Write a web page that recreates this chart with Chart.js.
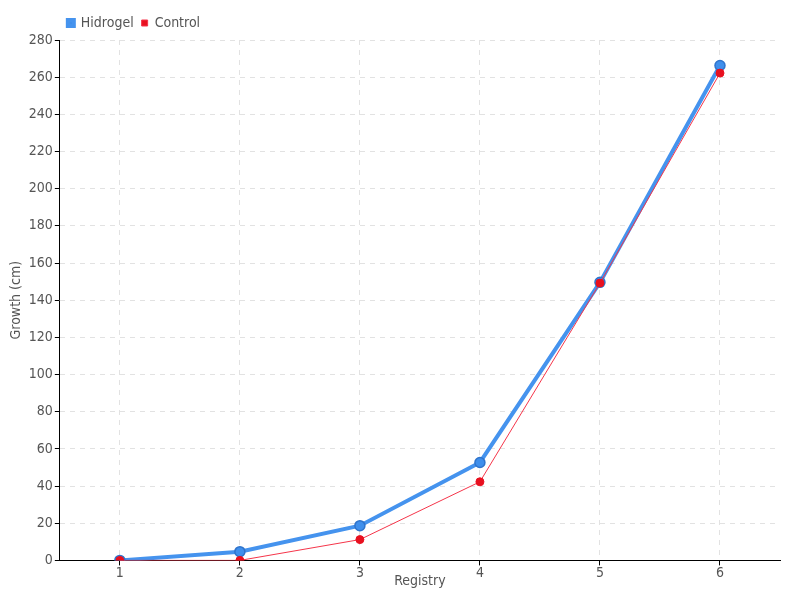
<!DOCTYPE html>
<html>
<head>
<meta charset="utf-8">
<script src="https://cdn.jsdelivr.net/npm/chart.js@4"></script>
<style>
  html, body { margin: 0; padding: 0; background: #fff; }
  #wrap { width: 800px; height: 600px; }
</style>
</head>
<body>
<div id="wrap"><canvas id="c"></canvas></div>
<script>
// ── Data ──────────────────────────────────────────────────────────────────────
const registry = ['1', '2', '3', '4', '5', '6'];
const hidrogel = [0, 4.7, 18.7, 52.7, 149.6, 266.3];
const control  = [0, 0, 11.2, 42.3, 149.2, 262.2];

const FONT = "'DejaVu Sans Condensed', 'Liberation Sans Narrow', 'Roboto', sans-serif";
const theme = { grid: '#e2e2e2', tick: '#555', axis: '#000' };

new Chart(document.getElementById('c'), {
    type: 'line',
    data: {
        labels: registry,
        datasets: [
            { label: 'Hidrogel', order: 1, data: hidrogel, borderColor: '#4593ee', backgroundColor: '#3f8fec', borderWidth: 4, pointRadius: 5, pointBorderColor: '#2f74cc', pointBorderWidth: 1.5, tension: 0, fill: false },
            { label: 'Control',  order: 0, data: control,  borderColor: '#f5354a', backgroundColor: '#e8101f', borderWidth: 1, pointRadius: 4, pointBorderColor: '#e8101f', pointBorderWidth: 1, tension: 0, fill: false },
        ],
    },
    options: {
        responsive: true, maintainAspectRatio: false, animation: false,
        layout: { padding: { left: 0, right: 20, top: 8, bottom: 10 } },
        plugins: {
            legend: {
                position: 'top', align: 'start', fullSize: false,
                labels: { color: theme.tick, boxWidth: 6, boxHeight: 6, padding: 8, font: { family: FONT, size: 14 },
                    sort: (a, b) => a.datasetIndex - b.datasetIndex },
            },
            tooltip: { enabled: false },
        },
        scales: {
            x: {
                offset: true,
                title: { display: true, text: 'Registry', color: theme.tick, font: { family: FONT, size: 14 }, padding: { top: -9, bottom: 0 } },
                grid: { color: theme.grid, tickColor: theme.axis, tickLength: 5, offset: false },
                border: { color: theme.axis, dash: [5, 5] },
                ticks: { color: theme.tick, font: { family: FONT, size: 14 }, padding: 0 },
            },
            y: {
                min: 0, max: 280,
                title: { display: true, text: 'Growth (cm)', color: theme.tick, font: { family: FONT, size: 14 }, padding: { top: 8, bottom: 2 } },
                grid: { color: theme.grid, tickColor: theme.axis, tickLength: 5 },
                border: { color: theme.axis, dash: [5, 5] },
                ticks: { stepSize: 20, color: theme.tick, font: { family: FONT, size: 14 }, padding: 2 },
            },
        },
    },
});
</script>
</body>
</html>
